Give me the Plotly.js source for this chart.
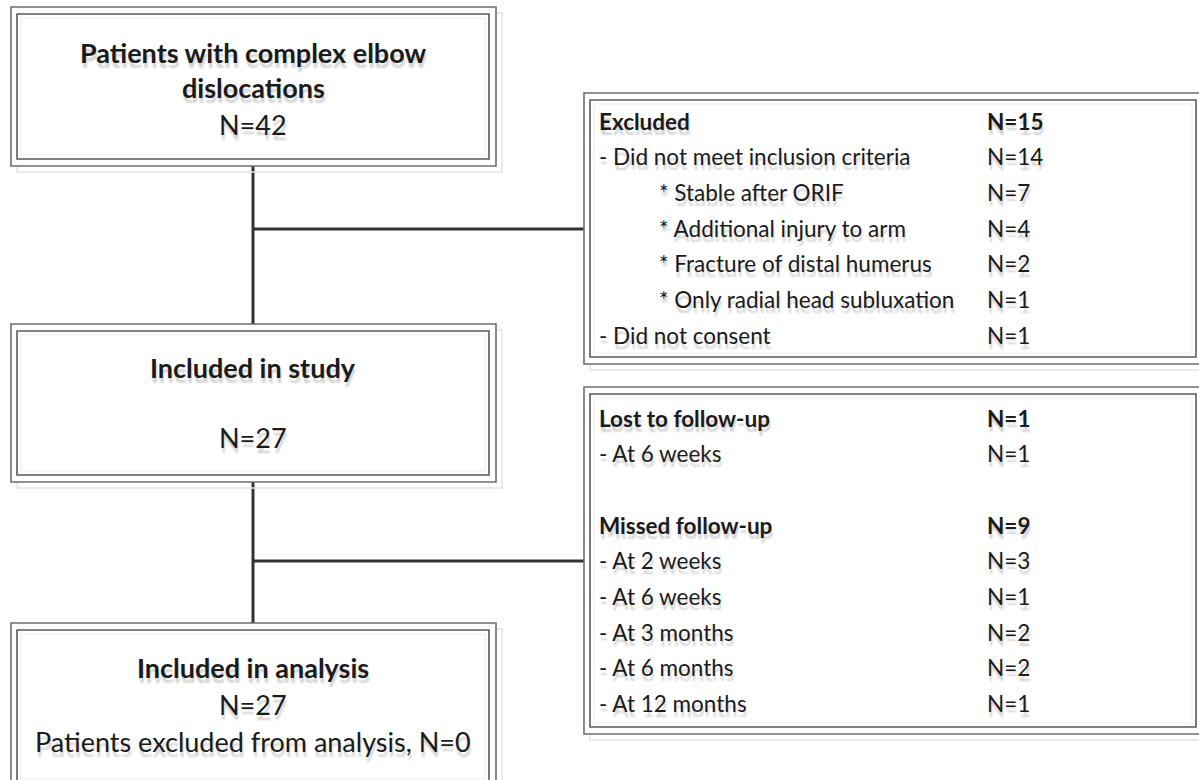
<!DOCTYPE html>
<html>
<head>
<meta charset="utf-8">
<script src="https://cdn.plot.ly/plotly-3.0.1.min.js"></script>
<style>html,body{margin:0;padding:0;background:#fff;}</style>
</head>
<body>
<div id="chart" style="width:1199px;height:780px;"></div>
<script>
// ---- data ----
const flowSteps = ["Patients with complex elbow", "Included in study", "Included in analysis"];
const flowStepsSub = ["dislocations", "", ""];
const flowN = [42, 27, 27];
const excludedFromAnalysisN = 0;

const exclusionLabels = ["Excluded", "- Did not meet inclusion criteria", "* Stable after ORIF",
  "* Additional injury to arm", "* Fracture of distal humerus", "* Only radial head subluxation",
  "- Did not consent"];
const exclusionN = [15, 14, 7, 4, 2, 1, 1];
const exclusionLevel = [0, 1, 2, 2, 2, 2, 1];

const followupLabels = ["Lost to follow-up", "- At 6 weeks", "", "Missed follow-up", "- At 2 weeks",
  "- At 6 weeks", "- At 3 months", "- At 6 months", "- At 12 months"];
const followupN = [1, 1, null, 9, 3, 1, 2, 2, 1];
const followupLevel = [0, 1, 1, 0, 1, 1, 1, 1, 1];

// ---- layout helpers ----
const FONT = "Lato, 'Open Sans', sans-serif";
const SHADOW = "1px 5px 2px rgba(0,0,0,0.18)";
const TXT = "#1b1b1b";
const shapes = [];
const annotations = [];

function box(x0, y0, x1, y1) {
  shapes.push({type: "rect", xref: "x", yref: "y", x0: x0 + 6, y0: y0 + 6, x1: x1 + 6, y1: y1 + 6,
    line: {color: "#e2e2e2", width: 1.5}, fillcolor: "rgba(0,0,0,0)"});
  shapes.push({type: "rect", xref: "x", yref: "y", x0: x0, y0: y0, x1: x1, y1: y1,
    line: {color: "#6e6e6e", width: 1.6}, fillcolor: "#ffffff"});
  shapes.push({type: "rect", xref: "x", yref: "y", x0: x0 + 6, y0: y0 + 7, x1: x1 - 7, y1: y1 - 7,
    line: {color: "#5a5a5a", width: 1.6}, fillcolor: "rgba(0,0,0,0)"});
  shapes.push({type: "rect", xref: "x", yref: "y", x0: x0 + 10, y0: y0 + 11, x1: x1 - 11, y1: y1 - 11,
    line: {color: "#ededed", width: 1}, fillcolor: "rgba(0,0,0,0)"});
}
function line(x0, y0, x1, y1) {
  shapes.push({type: "line", xref: "x", yref: "y", x0: x0, y0: y0, x1: x1, y1: y1,
    line: {color: "#333333", width: 3}, layer: "below"});
}
function txt(x, y, s, anchor, bold, size) {
  annotations.push({xref: "x", yref: "y", x: x, y: y, text: bold ? "<b>" + s + "</b>" : s,
    showarrow: false, xanchor: anchor, yanchor: "middle",
    font: {family: FONT, size: size, color: TXT, shadow: SHADOW}});
}

// connectors
line(253, 166, 253, 324);
line(253, 482, 253, 623);
line(253, 229, 586, 229);
line(253, 561, 586, 561);

// boxes
box(11, 7, 496, 166);
box(584, 93, 1203, 364);
box(11, 324, 496, 482);
box(584, 387, 1203, 734);
box(11, 623, 496, 790);

// left column boxes
const cx = 253;
const LS = 27;
txt(cx, 52, flowSteps[0], "center", true, LS);
txt(cx, 87, flowStepsSub[0], "center", true, LS);
txt(cx, 124, "N=" + flowN[0], "center", false, LS);
txt(cx, 367, flowSteps[1], "center", true, LS);
txt(cx, 437, "N=" + flowN[1], "center", false, LS);
txt(cx, 667, flowSteps[2], "center", true, LS);
txt(cx, 704, "N=" + flowN[2], "center", false, LS);
txt(cx, 741, "Patients excluded from analysis, N=" + excludedFromAnalysisN, "center", false, LS);

// right boxes
const RS = 22.5;
const rowH = 35.7;
const indent = [597, 597, 657];
exclusionLabels.forEach(function (lab, i) {
  const y = 121 + i * rowH;
  txt(indent[exclusionLevel[i]], y, lab, "left", exclusionLevel[i] === 0, RS);
  txt(985, y, "N=" + exclusionN[i], "left", exclusionLevel[i] === 0, RS);
});
followupLabels.forEach(function (lab, i) {
  const y = 418 + i * rowH;
  if (lab) txt(indent[followupLevel[i]], y, lab, "left", followupLevel[i] === 0, RS);
  if (followupN[i] !== null) txt(985, y, "N=" + followupN[i], "left", followupLevel[i] === 0, RS);
});

const layout = {
  width: 1199, height: 780,
  margin: {l: 0, r: 0, t: 0, b: 0},
  paper_bgcolor: "#ffffff", plot_bgcolor: "#ffffff",
  xaxis: {range: [0, 1199], visible: false, fixedrange: true},
  yaxis: {range: [780, 0], visible: false, fixedrange: true},
  showlegend: false,
  shapes: shapes,
  annotations: annotations
};
Plotly.newPlot("chart", [], layout, {staticPlot: true, displayModeBar: false});
</script>
</body>
</html>
